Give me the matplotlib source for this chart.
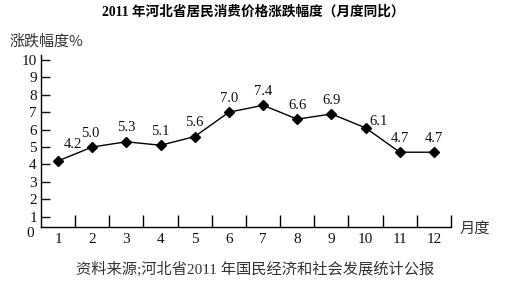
import matplotlib
matplotlib.use("Agg")
import matplotlib.pyplot as plt

months = [1, 2, 3, 4, 5, 6, 7, 8, 9, 10, 11, 12]
month_labels = ["1", "2", "3", "4", "5", "6", "7", "8", "9", "10", "11", "12"]
values = [4.2, 5.0, 5.3, 5.1, 5.6, 7.0, 7.4, 6.6, 6.9, 6.1, 4.7, 4.7]
y_ticks = [1, 2, 3, 4, 5, 6, 7, 8, 9, 10]

title = "2011 年河北省居民消费价格涨跌幅度（月度同比）"
ylabel = "涨跌幅度%"
xlabel = "月度"
source = "资料来源;河北省2011 年国民经济和社会发展统计公报"

SERIF = ["Liberation Serif", "Noto Sans CJK SC"]
CJK = ["Noto Sans CJK SC", "DejaVu Sans"]
plt.rcParams["font.family"] = SERIF

fig = plt.figure(figsize=(5.13, 2.83), dpi=100)
ax = fig.add_axes([41/513, 56/283, 410/513, 172/283])

ax.plot(months, values, color="black", lw=1.0, marker="D", markersize=4.6,
        markerfacecolor="black", markeredgecolor="black")

# label offsets (points)
default_off = (0, 10)
special_off = {0: (11, 11.5), 1: (-1.5, 9.5), 9: (9.5, 4.5)}
for i, (m, v) in enumerate(zip(months, values)):
    off = special_off.get(i, default_off)
    ax.annotate(f"{v:.1f}", (m, v), xytext=off, textcoords="offset points",
                ha="center", va="center", fontsize=10.5, family=SERIF, color="#111111")

ax.set_xlim(0.5, 12.5)
ax.set_ylim(0.4, 10.29)

for s in ["top", "right"]:
    ax.spines[s].set_visible(False)
for s in ["left", "bottom"]:
    ax.spines[s].set_linewidth(1.0)

# x: boundary ticks pointing up, labels at month centres
ax.set_xticks([m + 0.5 for m in months])
ax.set_xticklabels([])
ax.tick_params(axis="x", which="major", direction="in", length=8.5, width=1.0)
ax.set_xticks(months, minor=True)
ax.set_xticklabels(month_labels, minor=True, fontsize=11, family=SERIF)
ax.tick_params(axis="x", which="minor", length=0, pad=4, colors="#111111")

ax.set_yticks(y_ticks)
ax.set_yticklabels([str(t) for t in y_ticks], fontsize=11, family=SERIF)
ax.tick_params(axis="y", direction="in", length=6.5, width=1.0, pad=3, colors="#111111")

ax.annotate("0", (0.5, 0), xytext=(-5, 0), textcoords="offset points",
            ha="right", va="center", fontsize=11, family=SERIF,
            color="#111111", annotation_clip=False)

fig.text(253/513, 1 - 12/283, title, ha="center", va="center",
         fontsize=9.8, fontweight="bold", family=SERIF, color="black")
fig.text(10/513, 1 - 41/283, ylabel, ha="left", va="center",
         fontsize=10.8, family=CJK, color="#333333")
fig.text(460/513, 1 - 228/283, xlabel, ha="left", va="center",
         fontsize=11, family=CJK, color="#333333")
fig.text(255/513, 1 - 269/283, source, ha="center", va="center",
         fontsize=11, family=["Liberation Serif", "Noto Sans CJK SC"], color="#333333")

fig.savefig("out.png", dpi=100)
